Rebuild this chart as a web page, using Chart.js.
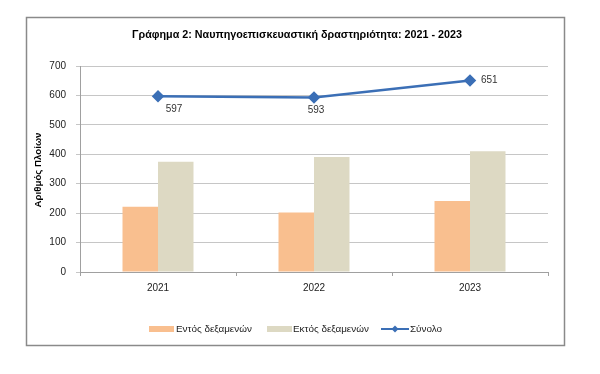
<!DOCTYPE html>
<html><head><meta charset="utf-8">
<script src="https://cdn.jsdelivr.net/npm/chart.js@4"></script>
<style>html,body{margin:0;padding:0;background:#fff}#wrap{width:600px;height:374px;position:relative}</style>
</head><body><div id="wrap"><canvas id="c" width="600" height="374"></canvas></div>
<script>
const categories = ['2021', '2022', '2023'];
const inDock = [222, 202, 241];
const outDock = [375, 391, 410];
const total = [597, 593, 651];
const seriesNames = ['Εντός δεξαμενών', 'Εκτός δεξαμενών', 'Σύνολο'];
const titleText = 'Γράφημα 2: Ναυπηγοεπισκευαστική δραστηριότητα: 2021 - 2023';
const yTitle = 'Αριθμός Πλοίων';

const FONT = '"Liberation Sans", Arial, sans-serif';
const C_ORANGE = '#F9BF8F', C_BEIGE = '#DDD9C3', C_BLUE = '#3B6FB6';
const labelOffsets = [[16, 13, 'center'], [2, 13, 'center'], [11, 0, 'left']];

function fitFont(ctx, text, weight, target) {
  let fs = 12;
  ctx.font = weight + fs + 'px ' + FONT;
  const w = ctx.measureText(text).width;
  fs = fs * target / w;
  ctx.font = weight + fs.toFixed(2) + 'px ' + FONT;
}

const deco = {
  id: 'deco',
  beforeDraw(chart) {
    const ctx = chart.ctx;
    ctx.save();
    ctx.fillStyle = '#fff';
    ctx.fillRect(0, 0, chart.width, chart.height);
    ctx.restore();
  },
  afterDraw(chart) {
    const ctx = chart.ctx;
    ctx.save();
    // border
    ctx.strokeStyle = '#8a8a8a';
    ctx.lineWidth = 1.5;
    ctx.strokeRect(26.5, 17.5, 538, 328);
    // title
    ctx.fillStyle = '#000';
    ctx.textBaseline = 'middle';
    fitFont(ctx, titleText, 'bold ', 330);
    ctx.textAlign = 'center';
    ctx.fillText(titleText, 297, 35);
    // y title
    ctx.save();
    ctx.translate(38, 170);
    ctx.rotate(-Math.PI / 2);
    fitFont(ctx, yTitle, 'bold ', 75);
    ctx.fillText(yTitle, 0, 0);
    ctx.restore();
    // data labels
    const meta = chart.getDatasetMeta(0);
    ctx.font = '10px ' + FONT;
    ctx.fillStyle = '#333';
    meta.data.forEach((pt, i) => {
      const o = labelOffsets[i];
      ctx.textAlign = o[2];
      ctx.fillText(String(total[i]), pt.x + o[0], pt.y + o[1]);
    });
    // legend
    const ly = 329;
    ctx.textAlign = 'left';
    ctx.fillStyle = C_ORANGE; ctx.fillRect(149, ly - 3, 25, 6);
    ctx.fillStyle = '#222'; fitFont(ctx, seriesNames[0], '', 76); ctx.fillText(seriesNames[0], 176, ly);
    ctx.fillStyle = C_BEIGE; ctx.fillRect(267, ly - 3, 25, 6);
    ctx.fillStyle = '#222'; ctx.fillText(seriesNames[1], 293, ly);
    ctx.strokeStyle = C_BLUE; ctx.lineWidth = 2;
    ctx.beginPath(); ctx.moveTo(381, ly); ctx.lineTo(409, ly); ctx.stroke();
    ctx.fillStyle = C_BLUE;
    ctx.beginPath(); ctx.moveTo(395, ly - 3.5); ctx.lineTo(398.5, ly); ctx.lineTo(395, ly + 3.5); ctx.lineTo(391.5, ly); ctx.closePath(); ctx.fill();
    ctx.fillStyle = '#222'; ctx.fillText(seriesNames[2], 410, ly);
    ctx.restore();
  }
};

new Chart(document.getElementById('c'), {
  data: {
    labels: categories,
    datasets: [
      { type: 'line', label: seriesNames[2], data: total, borderColor: C_BLUE, backgroundColor: C_BLUE,
        borderWidth: 2.5, pointStyle: 'rectRot', pointRadius: 4.5, pointHoverRadius: 4.5, tension: 0, order: 0 },
      { type: 'bar', label: seriesNames[0], data: inDock, backgroundColor: C_ORANGE,
        categoryPercentage: 0.455, barPercentage: 1, order: 1 },
      { type: 'bar', label: seriesNames[1], data: outDock, backgroundColor: C_BEIGE,
        categoryPercentage: 0.455, barPercentage: 1, order: 1 }
    ]
  },
  options: {
    responsive: false,
    animation: false,
    events: [],
    layout: { padding: { left: 0, right: 52, top: 66, bottom: 72 } },
    plugins: { legend: { display: false }, title: { display: false }, tooltip: { enabled: false } },
    scales: {
      x: {
        afterFit(s) { s.height = 30; },
        grid: { offset: true, drawOnChartArea: false, tickLength: 4, color: '#a0a0a0' },
        border: { color: '#a0a0a0', width: 1 },
        ticks: { padding: 6, color: '#222', font: { family: FONT, size: 10 } }
      },
      y: {
        min: 0, max: 700,
        afterFit(s) { s.width = 80; },
        ticks: { stepSize: 100, padding: 10, color: '#222', font: { family: FONT, size: 10 } },
        grid: { color: '#c6c6c6', lineWidth: 1, tickLength: 4 },
        border: { color: '#a0a0a0', width: 1 }
      }
    }
  },
  plugins: [deco]
});
</script>
</body></html>
